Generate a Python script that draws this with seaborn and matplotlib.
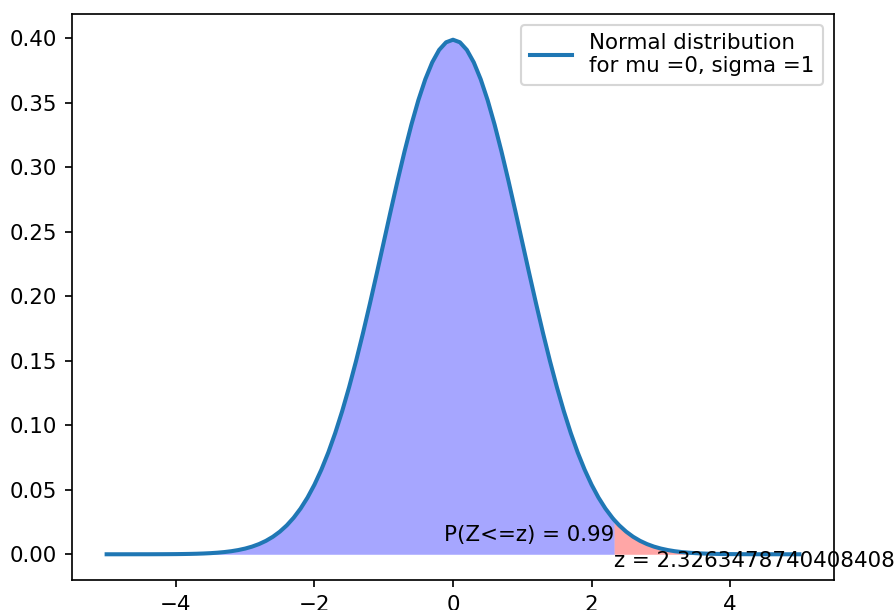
import matplotlib
matplotlib.use("Agg")
import matplotlib.pyplot as plt
import seaborn as sns
import numpy as np

# Sample grid and density values
x_values = [-5.0, -4.9, -4.8, -4.7, -4.6, -4.5, -4.4, -4.3, -4.2, -4.1,
            -4.0, -3.9, -3.8, -3.7, -3.6, -3.5, -3.4, -3.3, -3.2, -3.1,
            -3.0, -2.9, -2.8, -2.7, -2.6, -2.5, -2.4, -2.3, -2.2, -2.1,
            -2.0, -1.9, -1.8, -1.7, -1.6, -1.5, -1.4, -1.3, -1.2, -1.1,
            -1.0, -0.9, -0.8, -0.7, -0.6, -0.5, -0.4, -0.3, -0.2, -0.1,
            0.0, 0.1, 0.2, 0.3, 0.4, 0.5, 0.6, 0.7, 0.8, 0.9,
            1.0, 1.1, 1.2, 1.3, 1.4, 1.5, 1.6, 1.7, 1.8, 1.9,
            2.0, 2.1, 2.2, 2.3, 2.4, 2.5, 2.6, 2.7, 2.8, 2.9,
            3.0, 3.1, 3.2, 3.3, 3.4, 3.5, 3.6, 3.7, 3.8, 3.9,
            4.0, 4.1, 4.2, 4.3, 4.4, 4.5, 4.6, 4.7, 4.8, 4.9, 5.0]
density = [0.00000, 0.00000, 0.00000, 0.00001, 0.00001, 0.00002, 0.00002, 0.00004, 0.00006, 0.00009,
           0.00013, 0.00020, 0.00029, 0.00042, 0.00061, 0.00087, 0.00123, 0.00172, 0.00238, 0.00327,
           0.00443, 0.00595, 0.00792, 0.01042, 0.01358, 0.01753, 0.02239, 0.02833, 0.03547, 0.04398,
           0.05399, 0.06562, 0.07895, 0.09405, 0.11092, 0.12952, 0.14973, 0.17137, 0.19419, 0.21785,
           0.24197, 0.26609, 0.28969, 0.31225, 0.33322, 0.35207, 0.36827, 0.38139, 0.39104, 0.39695,
           0.39894, 0.39695, 0.39104, 0.38139, 0.36827, 0.35207, 0.33322, 0.31225, 0.28969, 0.26609,
           0.24197, 0.21785, 0.19419, 0.17137, 0.14973, 0.12952, 0.11092, 0.09405, 0.07895, 0.06562,
           0.05399, 0.04398, 0.03547, 0.02833, 0.02239, 0.01753, 0.01358, 0.01042, 0.00792, 0.00595,
           0.00443, 0.00327, 0.00238, 0.00172, 0.00123, 0.00087, 0.00061, 0.00042, 0.00029, 0.00020,
           0.00013, 0.00009, 0.00006, 0.00004, 0.00002, 0.00002, 0.00001, 0.00001, 0.00000, 0.00000, 0.00000]

z_value = 2.3263478740408408
z_density = 0.02665
probability = 0.99
legend_label = "Normal distribution\nfor mu =0, sigma =1"

# Insert the z point into the series
xs = np.array(x_values)
ys = np.array(density)
idx = np.searchsorted(xs, z_value)
xs_full = np.insert(xs, idx, z_value)
ys_full = np.insert(ys, idx, z_density)

left = xs_full <= z_value
right = xs_full >= z_value

fig = plt.figure(figsize=(896 / 153.6, 610 / 153.6), dpi=153.6)
ax = fig.add_axes([72 / 896, 30 / 610, 762 / 896, 566 / 610])

ax.fill_between(xs_full[left], ys_full[left], color="blue", alpha=0.35, linewidth=0)
ax.fill_between(xs_full[right], ys_full[right], color="red", alpha=0.35, linewidth=0)
sns.lineplot(x=xs_full, y=ys_full, ax=ax, color="#1f77b4", linewidth=1.9,
             label=legend_label, sort=False)

ax.text(z_value, 0.01, "P(Z<=z) = %.2f" % probability, ha="right")
ax.text(z_value, -0.01, "z = %r" % z_value, ha="left")

ax.set_xlabel("")
ax.set_ylabel("")
ax.set_yticks([0.0, 0.05, 0.10, 0.15, 0.20, 0.25, 0.30, 0.35, 0.40])
ax.legend(loc="upper right")

fig.savefig("out.png", dpi=153.6)
